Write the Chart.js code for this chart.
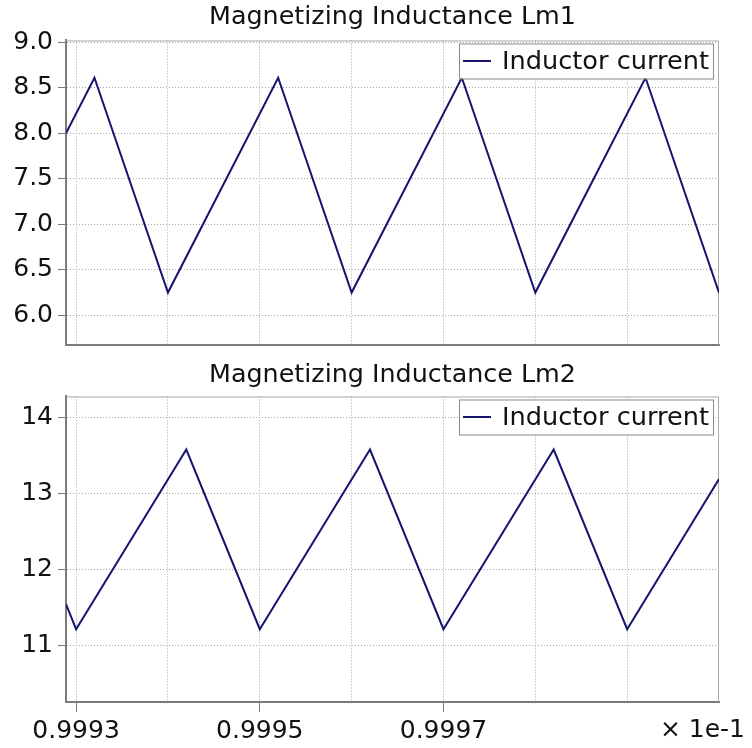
<!DOCTYPE html>
<html>
<head>
<meta charset="utf-8">
<script src="https://cdn.jsdelivr.net/npm/chart.js@4/dist/chart.umd.min.js"></script>
<style>
  html, body { margin: 0; padding: 0; background: #fff; }
  #wrap { position: relative; width: 752px; height: 748px; }
  canvas { position: absolute; left: 0; }
</style>
</head>
<body>
<div id="wrap">
  <canvas id="c1" width="752" height="360" style="top:0"></canvas>
  <canvas id="c2" width="752" height="388" style="top:360px"></canvas>
</div>
<script>
// ---- data ----
const titleTop = 'Magnetizing Inductance Lm1';
const titleBottom = 'Magnetizing Inductance Lm2';
const seriesName = 'Inductor current';
const xTop = [0.999289, 0.99932, 0.9994, 0.99952, 0.9996, 0.99972, 0.9998, 0.99992, 1.0];
const yTop = [8.0, 8.61, 6.25, 8.61, 6.25, 8.61, 6.25, 8.61, 6.25];
const xBottom = [0.999289, 0.9993, 0.99942, 0.9995, 0.99962, 0.9997, 0.99982, 0.9999, 1.0];
const yBottom = [11.54, 11.21, 13.58, 11.21, 13.58, 11.21, 13.58, 11.21, 13.19];
const xGridTicks = [0.9993, 0.9994, 0.9995, 0.9996, 0.9997, 0.9998, 0.9999];
const xLabeledTicks = [0.9993, 0.9995, 0.9997];
const yTicksTop = [6.0, 6.5, 7.0, 7.5, 8.0, 8.5, 9.0];
const yTicksBottom = [11, 12, 13, 14];
const xOffsetText = '× 1e-1';

const FONT = 'DejaVu Sans';
const LINE = '#16166e';
const GRID = '#a8a8a8';
const AXIS = '#7a7a7a';

function isLabeled(v) {
  return xLabeledTicks.some(t => Math.abs(t - v) < 1e-9);
}

const framePlugin = {
  id: 'frame',
  beforeDatasetsDraw(chart) {
    const a = chart.chartArea, ctx = chart.ctx;
    ctx.save();
    ctx.setLineDash([]);
    ctx.strokeStyle = '#a8a8a8';
    ctx.lineWidth = 1;
    ctx.beginPath();
    ctx.moveTo(a.left, a.top + 0.5);
    ctx.lineTo(a.right - 0.5, a.top + 0.5);
    ctx.lineTo(a.right - 0.5, a.bottom);
    ctx.stroke();
    ctx.restore();
  }
};

const boxLegendPlugin = {
  id: 'boxLegend',
  afterDatasetsDraw(chart) {
    const a = chart.chartArea, ctx = chart.ctx;
    const w = 254, h = 35;
    const x = a.right - 6 - w, y = a.top + 3;
    ctx.save();
    ctx.setLineDash([]);
    ctx.fillStyle = '#ffffff';
    ctx.fillRect(x, y, w, h);
    ctx.strokeStyle = '#8a8a8a';
    ctx.lineWidth = 1;
    ctx.strokeRect(x + 0.5, y + 0.5, w, h);
    ctx.strokeStyle = LINE;
    ctx.lineWidth = 2;
    ctx.beginPath();
    ctx.moveTo(x + 4, y + h / 2);
    ctx.lineTo(x + 32, y + h / 2);
    ctx.stroke();
    ctx.fillStyle = '#111';
    ctx.font = '25.6px "' + FONT + '"';
    ctx.textBaseline = 'middle';
    ctx.textAlign = 'left';
    ctx.fillText(seriesName, x + 43, y + h / 2 + 1);
    ctx.restore();
  }
};

const offsetTextPlugin = {
  id: 'offsetText',
  afterDraw(chart) {
    if (!chart.options.plugins.offsetText || !chart.options.plugins.offsetText.show) return;
    const ctx = chart.ctx;
    ctx.save();
    ctx.fillStyle = '#111';
    ctx.font = '25px "' + FONT + '"';
    ctx.textBaseline = 'middle';
    ctx.textAlign = 'right';
    ctx.fillText(xOffsetText, 745, 370);
    ctx.restore();
  }
};

function makeChart(canvasId, xs, ys, title, yMin, yMax, yTicks, yFmt, showXLabels, titlePad, xAxisHeight) {
  const data = xs.map((x, i) => ({ x: x, y: ys[i] }));
  return new Chart(document.getElementById(canvasId), {
    type: 'line',
    data: {
      datasets: [{
        label: seriesName,
        data: data,
        borderColor: LINE,
        backgroundColor: LINE,
        borderWidth: 2,
        pointRadius: 0,
        tension: 0,
        fill: false
      }]
    },
    options: {
      responsive: false,
      animation: false,
      layout: { padding: { left: 0, right: 33, top: 0, bottom: 0 } },
      plugins: {
        legend: { display: false },
        tooltip: { enabled: false },
        title: {
          display: true,
          fullSize: false,
          text: title,
          color: '#111',
          font: { family: FONT, size: 25.4, weight: 'normal' },
          padding: titlePad
        },
        offsetText: { show: showXLabels }
      },
      scales: {
        x: {
          type: 'linear',
          min: 0.999289,
          max: 1.0,
          afterBuildTicks: (scale) => { scale.ticks = xGridTicks.map(v => ({ value: v })); },
          afterFit: (scale) => { scale.height = xAxisHeight; scale.paddingLeft = 0; scale.paddingRight = 0; },
          ticks: {
            display: showXLabels,
            autoSkip: false,
            maxRotation: 0,
            padding: 4,
            color: '#111',
            font: { family: FONT, size: 25 },
            callback: (v) => isLabeled(v) ? v.toFixed(4) : ''
          },
          grid: {
            color: GRID,
            lineWidth: 1,
            drawTicks: showXLabels,
            tickLength: 10,
            tickBorderDash: [],
            tickColor: (ctx) => (ctx.tick && isLabeled(ctx.tick.value)) ? AXIS : 'rgba(0,0,0,0)'
          },
          border: { display: true, color: AXIS, width: 2, dash: [1, 2] }
        },
        y: {
          type: 'linear',
          min: yMin,
          max: yMax,
          afterBuildTicks: (scale) => { scale.ticks = yTicks.map(v => ({ value: v })); },
          afterFit: (scale) => { scale.width = 66; scale.paddingTop = 0; scale.paddingBottom = 0; },
          ticks: {
            autoSkip: false,
            padding: 5,
            color: '#111',
            font: { family: FONT, size: 25 },
            callback: yFmt
          },
          grid: {
            color: GRID,
            lineWidth: 1,
            drawTicks: true,
            tickLength: 8,
            tickBorderDash: [],
            tickColor: AXIS
          },
          border: { display: true, color: AXIS, width: 2, dash: [1, 2] }
        }
      }
    },
    plugins: [framePlugin, boxLegendPlugin, offsetTextPlugin]
  });
}

makeChart('c1', xTop, yTop, titleTop, 5.674, 9.02, yTicksTop, (v) => v.toFixed(1), false, { top: 2, bottom: 8 }, 15);
makeChart('c2', xBottom, yBottom, titleBottom, 10.25, 14.28, yTicksBottom, (v) => String(v), true, { top: 0, bottom: 6 }, 46);
</script>
</body>
</html>
